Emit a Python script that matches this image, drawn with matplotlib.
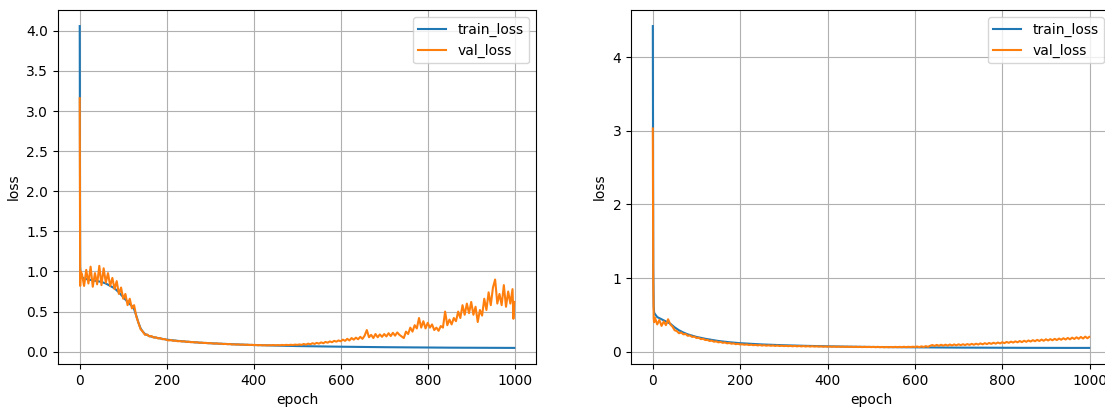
import matplotlib
matplotlib.use("Agg")
import matplotlib.pyplot as plt

# ---- left run ----
train_epochs_l = [0, 1, 2, 5, 10, 20, 30, 40, 50, 60,
                  70, 80, 90, 100, 110, 120, 125, 130, 135, 140,
                  145, 150, 160, 170, 180, 200, 225, 250, 275, 300,
                  350, 400, 450, 500, 550, 600, 650, 700, 750, 800,
                  850, 900, 950, 999]
train_loss_l = [4.06, 1.06, 0.97, 0.93, 0.91, 0.90, 0.89, 0.88, 0.87, 0.85,
                0.82, 0.79, 0.74, 0.68, 0.62, 0.57, 0.53, 0.45, 0.36, 0.29,
                0.25, 0.22, 0.195, 0.18, 0.17, 0.15, 0.135, 0.123, 0.113, 0.105,
                0.093, 0.083, 0.076, 0.070, 0.066, 0.062, 0.059, 0.056, 0.054, 0.052,
                0.050, 0.049, 0.048, 0.047]

val_epochs_l = [0, 1, 2] + list(range(5, 1000, 5)) + [997, 999]
val_loss_l = [3.16, 0.82, 1.00,
              # 5 - 60
              0.97, 0.82, 1.02, 0.85, 1.06, 0.81, 0.98, 0.84, 1.07, 0.83, 1.04, 0.86,
              # 65 - 200
              0.98, 0.82, 0.92, 0.78, 0.88, 0.72, 0.80, 0.66, 0.72, 0.58,
              0.66, 0.54, 0.58, 0.44, 0.36, 0.28, 0.25, 0.21, 0.215, 0.19,
              0.195, 0.175, 0.18, 0.165, 0.17, 0.155, 0.158, 0.146,
              # 205 - 300
              0.14, 0.145, 0.135, 0.138, 0.13, 0.132, 0.127, 0.13, 0.122, 0.125,
              0.118, 0.12, 0.115, 0.118, 0.11, 0.113, 0.108, 0.11, 0.105, 0.107,
              # 305 - 400
              0.103, 0.10, 0.104, 0.098, 0.10, 0.095, 0.097, 0.093, 0.096, 0.09,
              0.092, 0.088, 0.091, 0.086, 0.089, 0.085, 0.087, 0.083, 0.086, 0.082,
              # 405 - 500
              0.084, 0.08, 0.083, 0.079, 0.082, 0.078, 0.081, 0.08, 0.083, 0.079,
              0.082, 0.08, 0.084, 0.081, 0.085, 0.082, 0.086, 0.083, 0.088, 0.085,
              # 505 - 600
              0.09, 0.085, 0.096, 0.088, 0.10, 0.092, 0.105, 0.097, 0.11, 0.10,
              0.116, 0.105, 0.122, 0.112, 0.128, 0.118, 0.135, 0.125, 0.14, 0.13,
              # 605 - 700
              0.15, 0.135, 0.16, 0.14, 0.17, 0.15, 0.175, 0.155, 0.185, 0.16,
              0.20, 0.27, 0.18, 0.21, 0.17, 0.22, 0.18, 0.215, 0.185, 0.22,
              # 705 - 800
              0.19, 0.23, 0.195, 0.235, 0.20, 0.24, 0.21, 0.19, 0.17, 0.25,
              0.22, 0.30, 0.25, 0.33, 0.29, 0.42, 0.30, 0.38, 0.29, 0.36,
              # 805 - 900
              0.30, 0.34, 0.27, 0.30, 0.26, 0.32, 0.30, 0.50, 0.33, 0.40,
              0.34, 0.42, 0.38, 0.50, 0.42, 0.58, 0.46, 0.60, 0.48, 0.62,
              # 905 - 995
              0.46, 0.56, 0.37, 0.52, 0.45, 0.66, 0.52, 0.74, 0.58, 0.80,
              0.90, 0.60, 0.72, 0.58, 0.83, 0.56, 0.75, 0.60, 0.78,
              # 997, 999
              0.41, 0.62]

# ---- right run ----
train_epochs_r = [0, 1, 2, 3, 5, 10, 20, 30, 40, 50,
                  60, 70, 80, 100, 120, 150, 175, 200, 250, 300,
                  350, 400, 450, 500, 550, 600, 650, 700, 750, 800,
                  850, 900, 950, 999]
train_loss_r = [4.42, 1.15, 0.62, 0.53, 0.51, 0.47, 0.44, 0.41, 0.38, 0.33,
                0.29, 0.26, 0.235, 0.20, 0.175, 0.145, 0.128, 0.115, 0.098, 0.087,
                0.079, 0.073, 0.068, 0.064, 0.061, 0.059, 0.057, 0.055, 0.054, 0.053,
                0.052, 0.0515, 0.051, 0.051]

val_epochs_r = [0, 1, 2, 3] + list(range(5, 1000, 5)) + [999]
val_loss_r = [3.03, 0.95, 0.45, 0.40,
              # 5 - 60
              0.46, 0.37, 0.43, 0.35, 0.41, 0.36, 0.44, 0.37, 0.34, 0.29, 0.28, 0.25,
              # 65 - 200
              0.26, 0.235, 0.24, 0.215, 0.22, 0.20, 0.205, 0.185, 0.19, 0.17,
              0.175, 0.158, 0.16, 0.145, 0.15, 0.135, 0.14, 0.127, 0.132, 0.12,
              0.125, 0.113, 0.118, 0.108, 0.112, 0.102, 0.107, 0.098,
              # 205 - 300
              0.10, 0.094, 0.098, 0.09, 0.095, 0.088, 0.092, 0.085, 0.09, 0.083,
              0.088, 0.081, 0.086, 0.08, 0.084, 0.078, 0.083, 0.077, 0.081, 0.076,
              # 305 - 400
              0.08, 0.074, 0.079, 0.073, 0.078, 0.072, 0.077, 0.071, 0.076, 0.07,
              0.075, 0.069, 0.074, 0.069, 0.073, 0.068, 0.072, 0.067, 0.071, 0.067,
              # 405 - 500
              0.07, 0.066, 0.07, 0.065, 0.069, 0.065, 0.068, 0.064, 0.068, 0.064,
              0.067, 0.063, 0.067, 0.063, 0.066, 0.062, 0.066, 0.062, 0.065, 0.062,
              # 505 - 600
              0.065, 0.061, 0.065, 0.061, 0.064, 0.06, 0.064, 0.06, 0.064, 0.061,
              0.065, 0.061, 0.065, 0.062, 0.066, 0.062, 0.066, 0.063, 0.067, 0.064,
              # 605 - 700
              0.07, 0.062, 0.072, 0.064, 0.075, 0.066, 0.08, 0.09, 0.078, 0.092,
              0.08, 0.094, 0.082, 0.095, 0.083, 0.097, 0.085, 0.098, 0.086, 0.10,
              # 705 - 800
              0.088, 0.10, 0.09, 0.103, 0.092, 0.106, 0.094, 0.108, 0.097, 0.112,
              0.10, 0.115, 0.103, 0.118, 0.106, 0.121, 0.109, 0.124, 0.112, 0.128,
              # 805 - 900
              0.116, 0.132, 0.12, 0.136, 0.124, 0.14, 0.127, 0.144, 0.13, 0.148,
              0.134, 0.152, 0.138, 0.156, 0.142, 0.16, 0.145, 0.164, 0.148, 0.168,
              # 905 - 995
              0.152, 0.17, 0.155, 0.174, 0.158, 0.178, 0.162, 0.182, 0.165, 0.186,
              0.168, 0.19, 0.172, 0.195, 0.175, 0.20, 0.178, 0.204, 0.182,
              # 999
              0.20]

fig = plt.figure(figsize=(11.05, 4.07), dpi=100)
ax1 = fig.add_axes([58 / 1105, 43 / 407, 478 / 1105, 354 / 407])
ax2 = fig.add_axes([631 / 1105, 43 / 407, 480 / 1105, 354 / 407])

for ax, te, tl, ve, vl in [(ax1, train_epochs_l, train_loss_l, val_epochs_l, val_loss_l),
                           (ax2, train_epochs_r, train_loss_r, val_epochs_r, val_loss_r)]:
    ax.plot(te, tl, label="train_loss")
    ax.plot(ve, vl, label="val_loss")
    ax.set_xlabel("epoch")
    ax.set_ylabel("loss")
    ax.grid(True)
    ax.legend(loc="upper right")

fig.savefig("out.png", dpi=100)
